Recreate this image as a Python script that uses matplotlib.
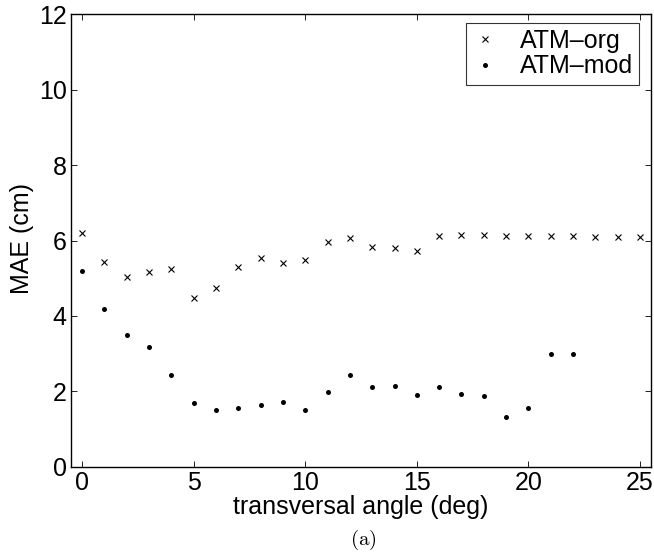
import matplotlib.pyplot as plt

plt.rcParams['font.family'] = ['Liberation Sans', 'DejaVu Sans']
plt.rcParams['mathtext.fontset'] = 'cm'

angles = list(range(26))
atm_org = [6.20, 5.43, 5.04, 5.16, 5.25, 4.47, 4.74, 5.31, 5.55, 5.41, 5.49, 5.96,
           6.06, 5.84, 5.80, 5.73, 6.13, 6.14, 6.14, 6.13, 6.13, 6.13, 6.12, 6.10,
           6.10, 6.10]
mod_angles = list(range(23))
atm_mod = [5.19, 4.19, 3.50, 3.17, 2.44, 1.69, 1.50, 1.57, 1.64, 1.71, 1.51, 1.97,
           2.43, 2.12, 2.14, 1.90, 2.11, 1.94, 1.88, 1.32, 1.55, 2.99, 2.99]

fig = plt.figure(figsize=(6.54, 5.53), dpi=100)
ax = fig.add_axes([0.1086, 0.156, 0.887, 0.818])

ax.plot(angles, atm_org, 'x', color='black', markersize=4, markeredgewidth=0.8,
        label='ATM\u2013org')
ax.plot(mod_angles, atm_mod, 'o', color='black', markersize=3.6, markeredgewidth=0,
        label='ATM\u2013mod')

ax.set_xlim(-0.5, 25.5)
ax.set_ylim(0, 12)
ax.set_xticks([0, 5, 10, 15, 20, 25])
ax.set_yticks([0, 2, 4, 6, 8, 10, 12])
ax.tick_params(direction='in', top=True, right=True, labelsize=18, length=4.3,
               width=0.6, pad=3)
for s in ax.spines.values():
    s.set_linewidth(1.0)

ax.set_xlabel('transversal angle (deg)', fontsize=18, labelpad=0)
ax.set_ylabel('MAE (cm)', fontsize=18)
ax.yaxis.set_label_coords(-0.064, 0.505)

# legend box placed where the reference has it
leg = ax.legend(loc='upper right', fontsize=18, frameon=True, fancybox=False,
                edgecolor='black', handlelength=1.0, borderpad=0.25,
                labelspacing=0.05, handletextpad=0.9, borderaxespad=0,
                bbox_to_anchor=(0.979, 0.981))
leg.get_frame().set_linewidth(0.8)

fig.text(0.555, 0.0235, r'$\mathrm{(a)}$', fontsize=15, ha='center', va='center')

fig.savefig('out.png', dpi=100)
